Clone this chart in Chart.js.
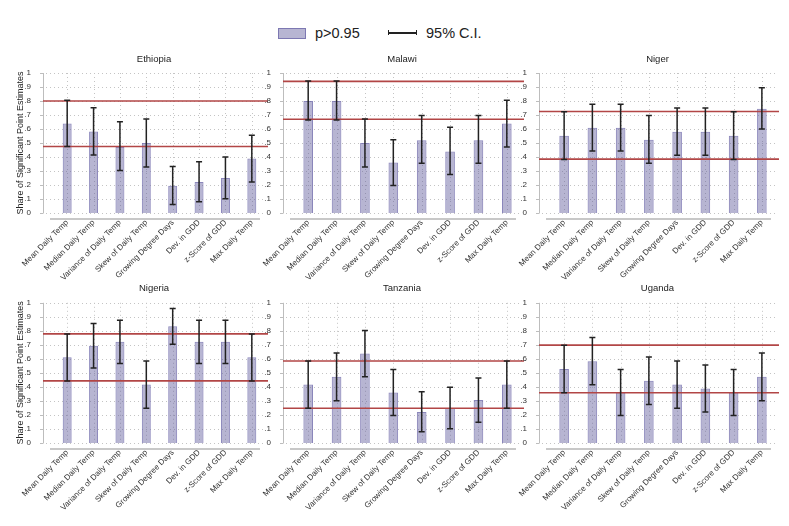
<!DOCTYPE html>
<html>
<head>
<meta charset="utf-8">
<script src="https://cdn.jsdelivr.net/npm/chart.js@4/dist/chart.umd.min.js"></script>
<style>
  body { margin: 0; background: #fff; font-family: "Liberation Sans", Arial, sans-serif; }
  #wrap { position: relative; width: 789px; height: 526px; overflow: hidden; }
  canvas { position: absolute; }
  .legend { position: absolute; top: 24px; font-size: 14.5px; color: #222; line-height: 18px; }
  .swatch { position: absolute; left: 278px; top: 28px; width: 26px; height: 9px;
            background: rgba(95, 90, 155, 0.45); border: 1px solid rgba(110, 105, 170, 0.8); }
  .ci { position: absolute; left: 388px; top: 30px; width: 27px; height: 5px;
        border-left: 1.5px solid #222; border-right: 1.5px solid #222; }
  .ci::after { content: ""; position: absolute; left: 0; right: 0; top: 2px; height: 1.5px; background: #222; }
</style>
</head>
<body>
<div id="wrap">
  <div class="swatch"></div>
  <div class="legend" style="left:315px">p&gt;0.95</div>
  <div class="ci"></div>
  <div class="legend" style="left:426px">95% C.I.</div>

  <canvas id="ethiopia" width="270" height="245" style="left:0px;top:40px"></canvas>
  <canvas id="malawi" width="285" height="245" style="left:243px;top:40px"></canvas>
  <canvas id="niger" width="289" height="245" style="left:500px;top:40px"></canvas>
  <canvas id="nigeria" width="270" height="243" style="left:0px;top:283px"></canvas>
  <canvas id="tanzania" width="285" height="243" style="left:243px;top:283px"></canvas>
  <canvas id="uganda" width="289" height="243" style="left:500px;top:283px"></canvas>
</div>

<script>
// categories and axis ticks
const categories = ["Mean Daily Temp", "Median Daily Temp", "Variance of Daily Temp", "Skew of Daily Temp",
                    "Growing Degree Days", "Dev. in GDD", "z-Score of GDD", "Max Daily Temp"];
const yTicks = [0, 0.1, 0.2, 0.3, 0.4, 0.5, 0.6, 0.7, 0.8, 0.9, 1];
const yTickLabels = ["0", ".1", ".2", ".3", ".4", ".5", ".6", ".7", ".8", ".9", "1"];

// share of significant estimates, 95% CI, and the two reference lines per country
const ethiopiaShare = [0.639, 0.583, 0.472, 0.500, 0.194, 0.222, 0.250, 0.389];
const ethiopiaLow   = [0.475, 0.415, 0.303, 0.329, 0.060, 0.080, 0.102, 0.221];
const ethiopiaHigh  = [0.805, 0.752, 0.652, 0.672, 0.332, 0.366, 0.400, 0.556];
const ethiopiaBand  = [0.80, 0.475];

const malawiShare = [0.80, 0.80, 0.50, 0.36, 0.52, 0.44, 0.52, 0.64];
const malawiLow   = [0.665, 0.665, 0.328, 0.196, 0.355, 0.275, 0.355, 0.472];
const malawiHigh  = [0.943, 0.943, 0.672, 0.524, 0.697, 0.612, 0.697, 0.805];
const malawiBand  = [0.94, 0.67];

const nigerShare = [0.552, 0.609, 0.609, 0.524, 0.581, 0.581, 0.552, 0.745];
const nigerLow   = [0.382, 0.442, 0.442, 0.355, 0.412, 0.412, 0.382, 0.600];
const nigerHigh  = [0.723, 0.776, 0.776, 0.697, 0.750, 0.750, 0.723, 0.895];
const nigerBand  = [0.725, 0.385];

const nigeriaShare = [0.611, 0.694, 0.722, 0.417, 0.833, 0.722, 0.722, 0.611];
const nigeriaLow   = [0.443, 0.535, 0.567, 0.248, 0.705, 0.567, 0.567, 0.443];
const nigeriaHigh  = [0.778, 0.852, 0.875, 0.585, 0.960, 0.875, 0.875, 0.778];
const nigeriaBand  = [0.778, 0.443];

const tanzaniaShare = [0.417, 0.472, 0.639, 0.361, 0.222, 0.250, 0.306, 0.417];
const tanzaniaLow   = [0.248, 0.302, 0.472, 0.196, 0.080, 0.102, 0.148, 0.248];
const tanzaniaHigh  = [0.585, 0.642, 0.803, 0.525, 0.365, 0.398, 0.463, 0.585];
const tanzaniaBand  = [0.585, 0.248];

const ugandaShare = [0.528, 0.583, 0.361, 0.444, 0.417, 0.389, 0.361, 0.472];
const ugandaLow   = [0.358, 0.415, 0.196, 0.275, 0.248, 0.221, 0.196, 0.302];
const ugandaHigh  = [0.698, 0.752, 0.525, 0.613, 0.585, 0.556, 0.525, 0.642];
const ugandaBand  = [0.698, 0.358];

// yw = width left of the plot, pr = right padding, pt = top padding, xh = label band height
const panels = [
  { id: "ethiopia", title: "Ethiopia", share: ethiopiaShare, low: ethiopiaLow, high: ethiopiaHigh, band: ethiopiaBand, yTitle: true,  yw: 54, pr: 5,  pt: 33, xh: 72 },
  { id: "malawi",   title: "Malawi",   share: malawiShare,   low: malawiLow,   high: malawiHigh,   band: malawiBand,   yTitle: false, yw: 51, pr: 7,  pt: 33, xh: 72 },
  { id: "niger",    title: "Niger",    share: nigerShare,    low: nigerLow,    high: nigerHigh,    band: nigerBand,    yTitle: false, yw: 50, pr: 13, pt: 33, xh: 72 },
  { id: "nigeria",  title: "Nigeria",  share: nigeriaShare,  low: nigeriaLow,  high: nigeriaHigh,  band: nigeriaBand,  yTitle: true,  yw: 54, pr: 5,  pt: 19, xh: 83 },
  { id: "tanzania", title: "Tanzania", share: tanzaniaShare, low: tanzaniaLow, high: tanzaniaHigh, band: tanzaniaBand, yTitle: false, yw: 51, pr: 7,  pt: 19, xh: 83 },
  { id: "uganda",   title: "Uganda",   share: ugandaShare,   low: ugandaLow,   high: ugandaHigh,   band: ugandaBand,   yTitle: false, yw: 50, pr: 13, pt: 19, xh: 83 }
];

const FONT = '"Liberation Sans", Arial, sans-serif';

// grid, axis lines, reference lines, error bars, titles
const panelPlugin = {
  id: "panelDeco",
  beforeDatasetsDraw(chart) {
    const { ctx, chartArea: a, scales: { x, y } } = chart;
    const axisX = a.left - 11;
    ctx.save();
    ctx.strokeStyle = "#c4c4c4";
    ctx.lineWidth = 1;
    ctx.setLineDash([1, 3]);
    yTicks.forEach(v => {
      const py = Math.round(y.getPixelForValue(v)) + 0.5;
      ctx.beginPath(); ctx.moveTo(axisX + 3, py); ctx.lineTo(a.right, py); ctx.stroke();
    });
    categories.forEach((c, i) => {
      const px = Math.round(x.getPixelForValue(i)) + 0.5;
      ctx.beginPath(); ctx.moveTo(px, y.getPixelForValue(1)); ctx.lineTo(px, y.getPixelForValue(0)); ctx.stroke();
    });
    ctx.setLineDash([]);
    // y axis line and ticks
    ctx.strokeStyle = "#bdbdbd";
    ctx.beginPath();
    ctx.moveTo(axisX + 0.5, y.getPixelForValue(1));
    ctx.lineTo(axisX + 0.5, y.getPixelForValue(0));
    yTicks.forEach(v => {
      const py = Math.round(y.getPixelForValue(v)) + 0.5;
      ctx.moveTo(axisX - 3, py); ctx.lineTo(axisX + 0.5, py);
    });
    ctx.stroke();
    // x axis line
    ctx.strokeStyle = "#c8c8c8";
    ctx.lineWidth = 2;
    const by = y.getPixelForValue(0) + 6;
    ctx.beginPath(); ctx.moveTo(axisX + 7, by); ctx.lineTo(a.right - 5, by); ctx.stroke();
    ctx.restore();
  },
  afterDatasetsDraw(chart, args, opts) {
    const { ctx, chartArea: a, scales: { x, y } } = chart;
    const p = opts.panel;
    const axisX = a.left - 11;
    ctx.save();
    // reference lines
    ctx.strokeStyle = "#b24646";
    ctx.lineWidth = 1.6;
    p.band.forEach(v => {
      const py = y.getPixelForValue(v);
      ctx.beginPath(); ctx.moveTo(axisX, py); ctx.lineTo(a.right + 3, py); ctx.stroke();
    });
    // error bars
    ctx.strokeStyle = "#222";
    ctx.lineWidth = 1.5;
    p.share.forEach((s, i) => {
      const px = x.getPixelForValue(i);
      const lo = y.getPixelForValue(p.low[i]);
      const hi = y.getPixelForValue(p.high[i]);
      ctx.beginPath();
      ctx.moveTo(px, lo); ctx.lineTo(px, hi);
      ctx.moveTo(px - 3, lo); ctx.lineTo(px + 3, lo);
      ctx.moveTo(px - 3, hi); ctx.lineTo(px + 3, hi);
      ctx.stroke();
    });
    // panel title
    ctx.fillStyle = "#222";
    ctx.font = "9.5px " + FONT;
    ctx.textAlign = "center";
    ctx.textBaseline = "middle";
    ctx.fillText(p.title, (axisX + a.right) / 2, y.getPixelForValue(1) - 14);
    // y axis title
    if (p.yTitle) {
      ctx.font = "9px " + FONT;
      ctx.translate(21, (y.getPixelForValue(0) + y.getPixelForValue(1)) / 2);
      ctx.rotate(-Math.PI / 2);
      ctx.fillText("Share of Significant Point Estimates", 0, 0);
    }
    ctx.restore();
  }
};

panels.forEach(p => {
  new Chart(document.getElementById(p.id), {
    type: "bar",
    data: {
      labels: categories,
      datasets: [{
        data: p.share,
        backgroundColor: "rgba(95, 90, 155, 0.45)",
        borderColor: "rgba(110, 105, 170, 0.8)",
        borderWidth: 1,
        barPercentage: 0.68,
        categoryPercentage: 0.5
      }]
    },
    options: {
      responsive: false,
      animation: false,
      layout: { padding: { top: p.pt, right: p.pr, left: 0, bottom: 0 } },
      plugins: {
        legend: { display: false },
        tooltip: { enabled: false },
        panelDeco: { panel: p }
      },
      scales: {
        x: {
          grid: { display: false },
          border: { display: false },
          ticks: { autoSkip: false, maxRotation: 45, minRotation: 45, padding: -3,
                   color: "#333", font: { size: 8, family: FONT } },
          afterFit: s => { s.height = p.xh; s.paddingLeft = 0; s.paddingRight = 0; }
        },
        y: {
          min: 0,
          max: 1,
          afterBuildTicks: s => { s.ticks = yTicks.map(v => ({ value: v })); },
          grid: { display: false },
          border: { display: false },
          ticks: { padding: 15, color: "#333", font: { size: 8, family: FONT },
                   callback: (v, i) => yTickLabels[i] },
          afterFit: s => { s.width = p.yw; }
        }
      }
    },
    plugins: [panelPlugin]
  });
});
</script>
</body>
</html>
